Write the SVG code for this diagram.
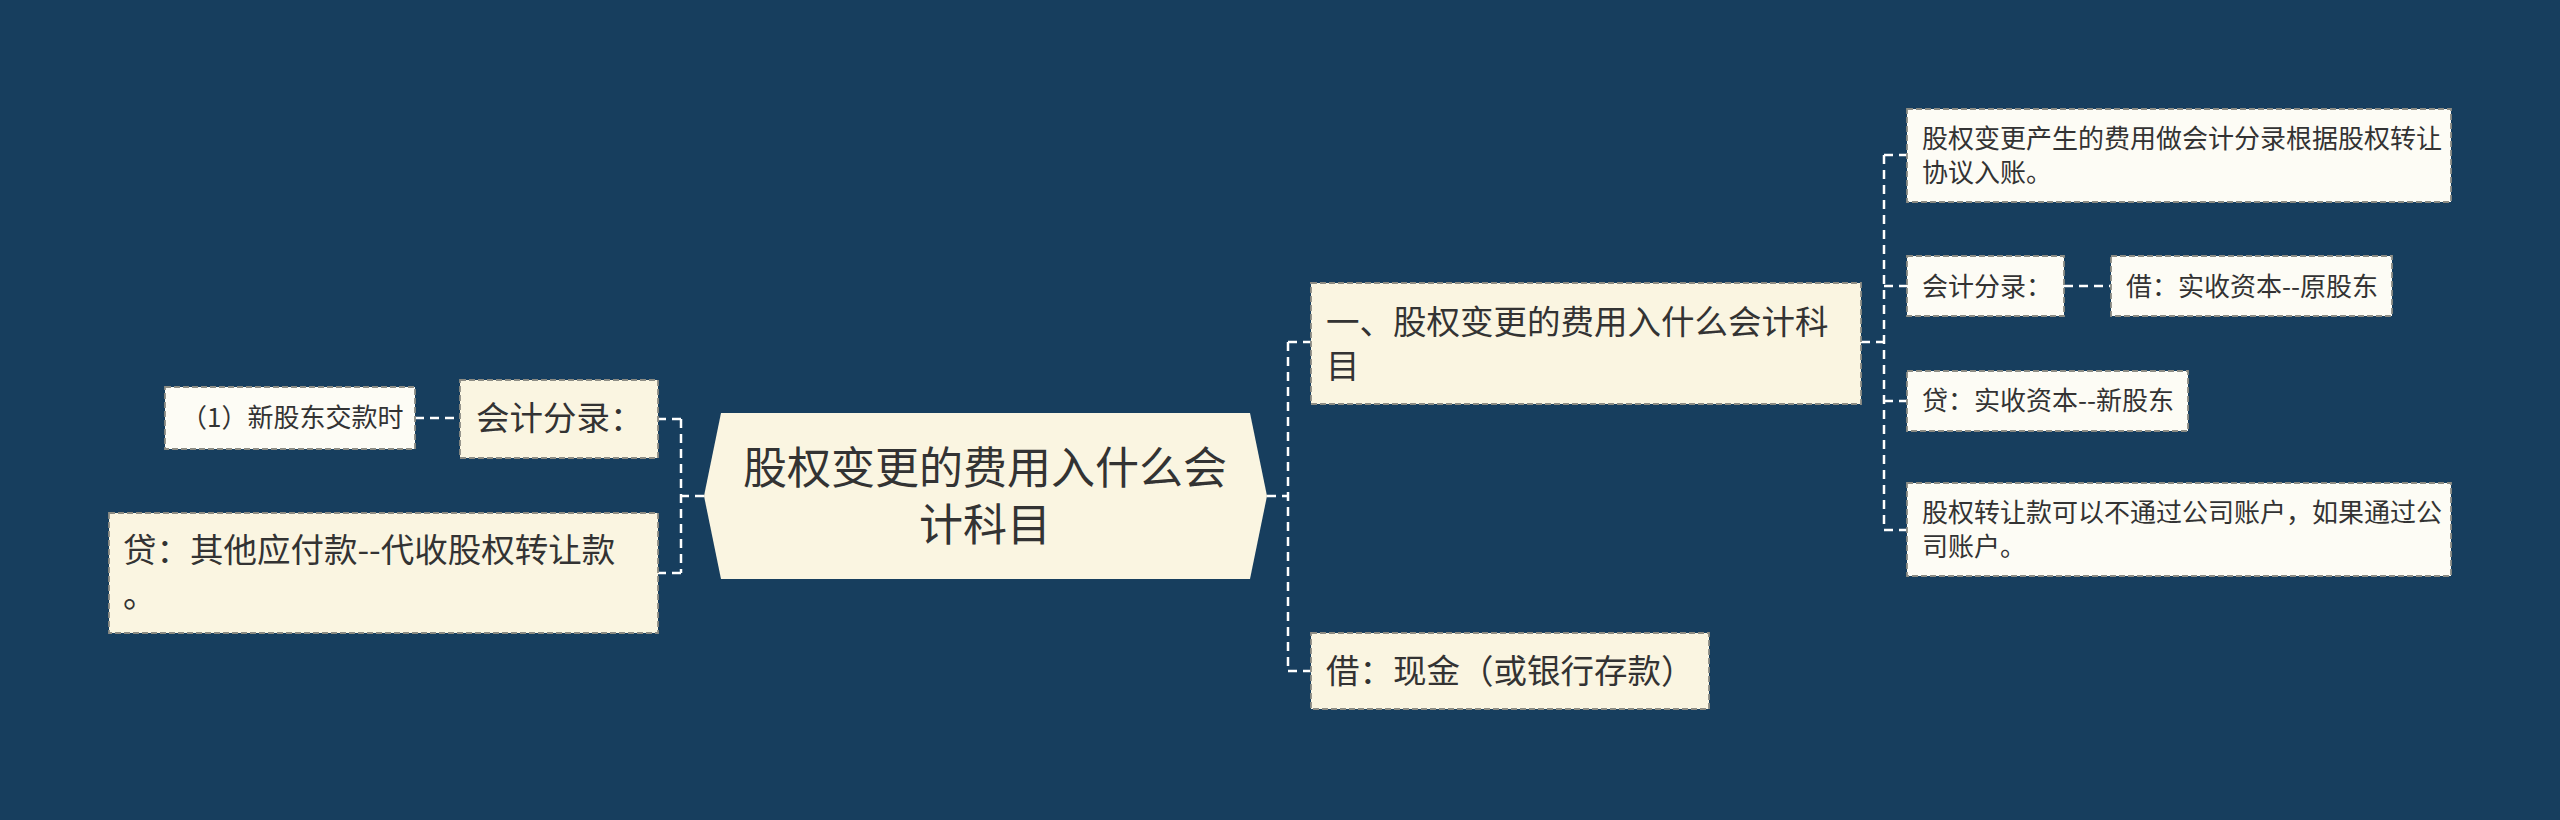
<svg xmlns="http://www.w3.org/2000/svg" width="2560" height="820" viewBox="0 0 2560 820">
<style>
.bg{fill:#173e5e}
.n1{fill:#faf5e1;stroke:#8c8c84;stroke-width:1.8;stroke-dasharray:6 3}
.n2{fill:#fdfcf5;stroke:#8c8c84;stroke-width:1.8;stroke-dasharray:6 3}
.root{fill:#faf5e1}
.c{fill:none;stroke:#ffffff;stroke-width:2.5;stroke-dasharray:9 6}
text{font-family:"Noto Sans CJK SC","Noto Sans",sans-serif;fill:#333333}
.t0{font-size:44px}
.t1{font-size:33.5px}
.t2{font-size:26px}
</style>
<rect class="bg" x="0" y="0" width="2560" height="820"/>
<g id="connectors">
<path class="c" d="M1267,496 H1288 M1288,342 V671 M1288,342 H1311 M1288,671 H1311"/>
<path class="c" d="M704,496 H681 M681,419 V573 M681,419 H658 M681,573 H658"/>
<path class="c" d="M1861,342 H1884 M1884,155 V530 M1884,155 H1907 M1884,286 H1907 M1884,401 H1907 M1884,530 H1907"/>
<path class="c" d="M2064,286 H2111"/>
<path class="c" d="M415,418 H460"/>
</g>
<g id="root">
<polygon class="root" points="704,496 721,413 1250,413 1267,496 1250,579 721,579"/>
<text class="t0" x="985" y="484" text-anchor="middle">股权变更的费用入什么会</text>
<text class="t0" x="985" y="541" text-anchor="middle">计科目</text>
</g>
<g id="n-left-entry">
<rect class="n1" x="460" y="380" width="198" height="78"/>
<text class="t1" x="476" y="430">会计分录：</text>
</g>
<g id="n-left-new">
<rect class="n2" x="165" y="387" width="250" height="62"/>
<text class="t2" x="181" y="427">（1）新股东交款时</text>
</g>
<g id="n-left-credit">
<rect class="n1" x="109" y="513" width="549" height="120"/>
<text class="t1" x="123" y="562">贷：其他应付款--代收股权转让款</text>
<text class="t1" x="123" y="607">。</text>
</g>
<g id="n-r1">
<rect class="n1" x="1311" y="283" width="550" height="121"/>
<text class="t1" x="1326" y="334">一、股权变更的费用入什么会计科</text>
<text class="t1" x="1326" y="378">目</text>
</g>
<g id="n-r2">
<rect class="n1" x="1311" y="633" width="398" height="76"/>
<text class="t1" x="1326" y="683">借：现金（或银行存款）</text>
</g>
<g id="n-leaf1">
<rect class="n2" x="1907" y="109" width="544" height="93"/>
<text class="t2" x="1922" y="148">股权变更产生的费用做会计分录根据股权转让</text>
<text class="t2" x="1922" y="182">协议入账。</text>
</g>
<g id="n-leaf2">
<rect class="n2" x="1907" y="256" width="157" height="60"/>
<text class="t2" x="1922" y="296">会计分录：</text>
</g>
<g id="n-leaf2b">
<rect class="n2" x="2111" y="256" width="281" height="60"/>
<text class="t2" x="2126" y="296">借：实收资本--原股东</text>
</g>
<g id="n-leaf3">
<rect class="n2" x="1907" y="371" width="281" height="60"/>
<text class="t2" x="1922" y="410">贷：实收资本--新股东</text>
</g>
<g id="n-leaf4">
<rect class="n2" x="1907" y="483" width="544" height="93"/>
<text class="t2" x="1922" y="522">股权转让款可以不通过公司账户，如果通过公</text>
<text class="t2" x="1922" y="556">司账户。</text>
</g>
</svg>
